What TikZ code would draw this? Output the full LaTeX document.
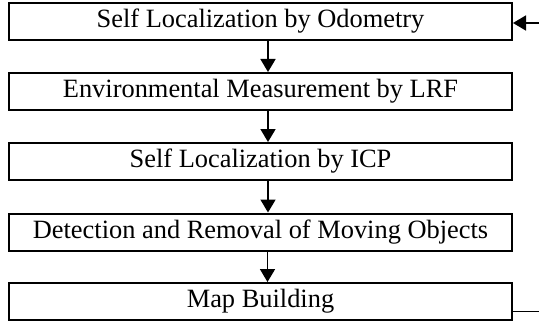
\documentclass[tikz,border=0pt]{standalone}
\usepackage{fontspec}
\setmainfont{Liberation Serif}
\usetikzlibrary{arrows.meta}

\begin{document}
\begin{tikzpicture}[
    x=0.5pt, y=-0.5pt,
    stage/.style={rectangle, draw=black, line width=1pt, minimum width=251.5pt, minimum height=18.5pt, inner sep=0pt, align=center, font=\fontsize{13.2}{15}\selectfont},
    arrow/.style={-{Triangle[length=6.5pt, width=7.5pt]}, line width=0.9pt},
    loopline/.style={line width=0.9pt},
]
\useasboundingbox (0,0) rectangle (539,326);

% Stages
\node[stage] (odometry) at (260.5, 21.5) {Self Localization by Odometry};
\node[stage] (lrf) at (260.5, 91.5) {Environmental Measurement by LRF};
\node[stage] (icp) at (260.5, 161.5) {Self Localization by ICP};
\node[stage] (moving) at (260.5, 232) {Detection and Removal of Moving Objects};
\node[stage] (mapping) at (260.5, 301.5) {Map Building};

% Arrows
\draw[arrow] ([xshift=3.75pt]odometry.south) -- ([xshift=3.75pt]lrf.north);
\draw[arrow] ([xshift=3.75pt]lrf.south) -- ([xshift=3.75pt]icp.north);
\draw[arrow] ([xshift=3.75pt]icp.south) -- ([xshift=3.75pt]moving.north);
\draw[arrow] ([xshift=3.5pt]moving.south) -- ([xshift=3.5pt]mapping.north);

% Feedback loop
\draw[arrow] ([yshift=-5pt]mapping.east) -- ++(20pt,0) |- ([yshift=-0.75pt]odometry.east);

\end{tikzpicture}
\end{document}
